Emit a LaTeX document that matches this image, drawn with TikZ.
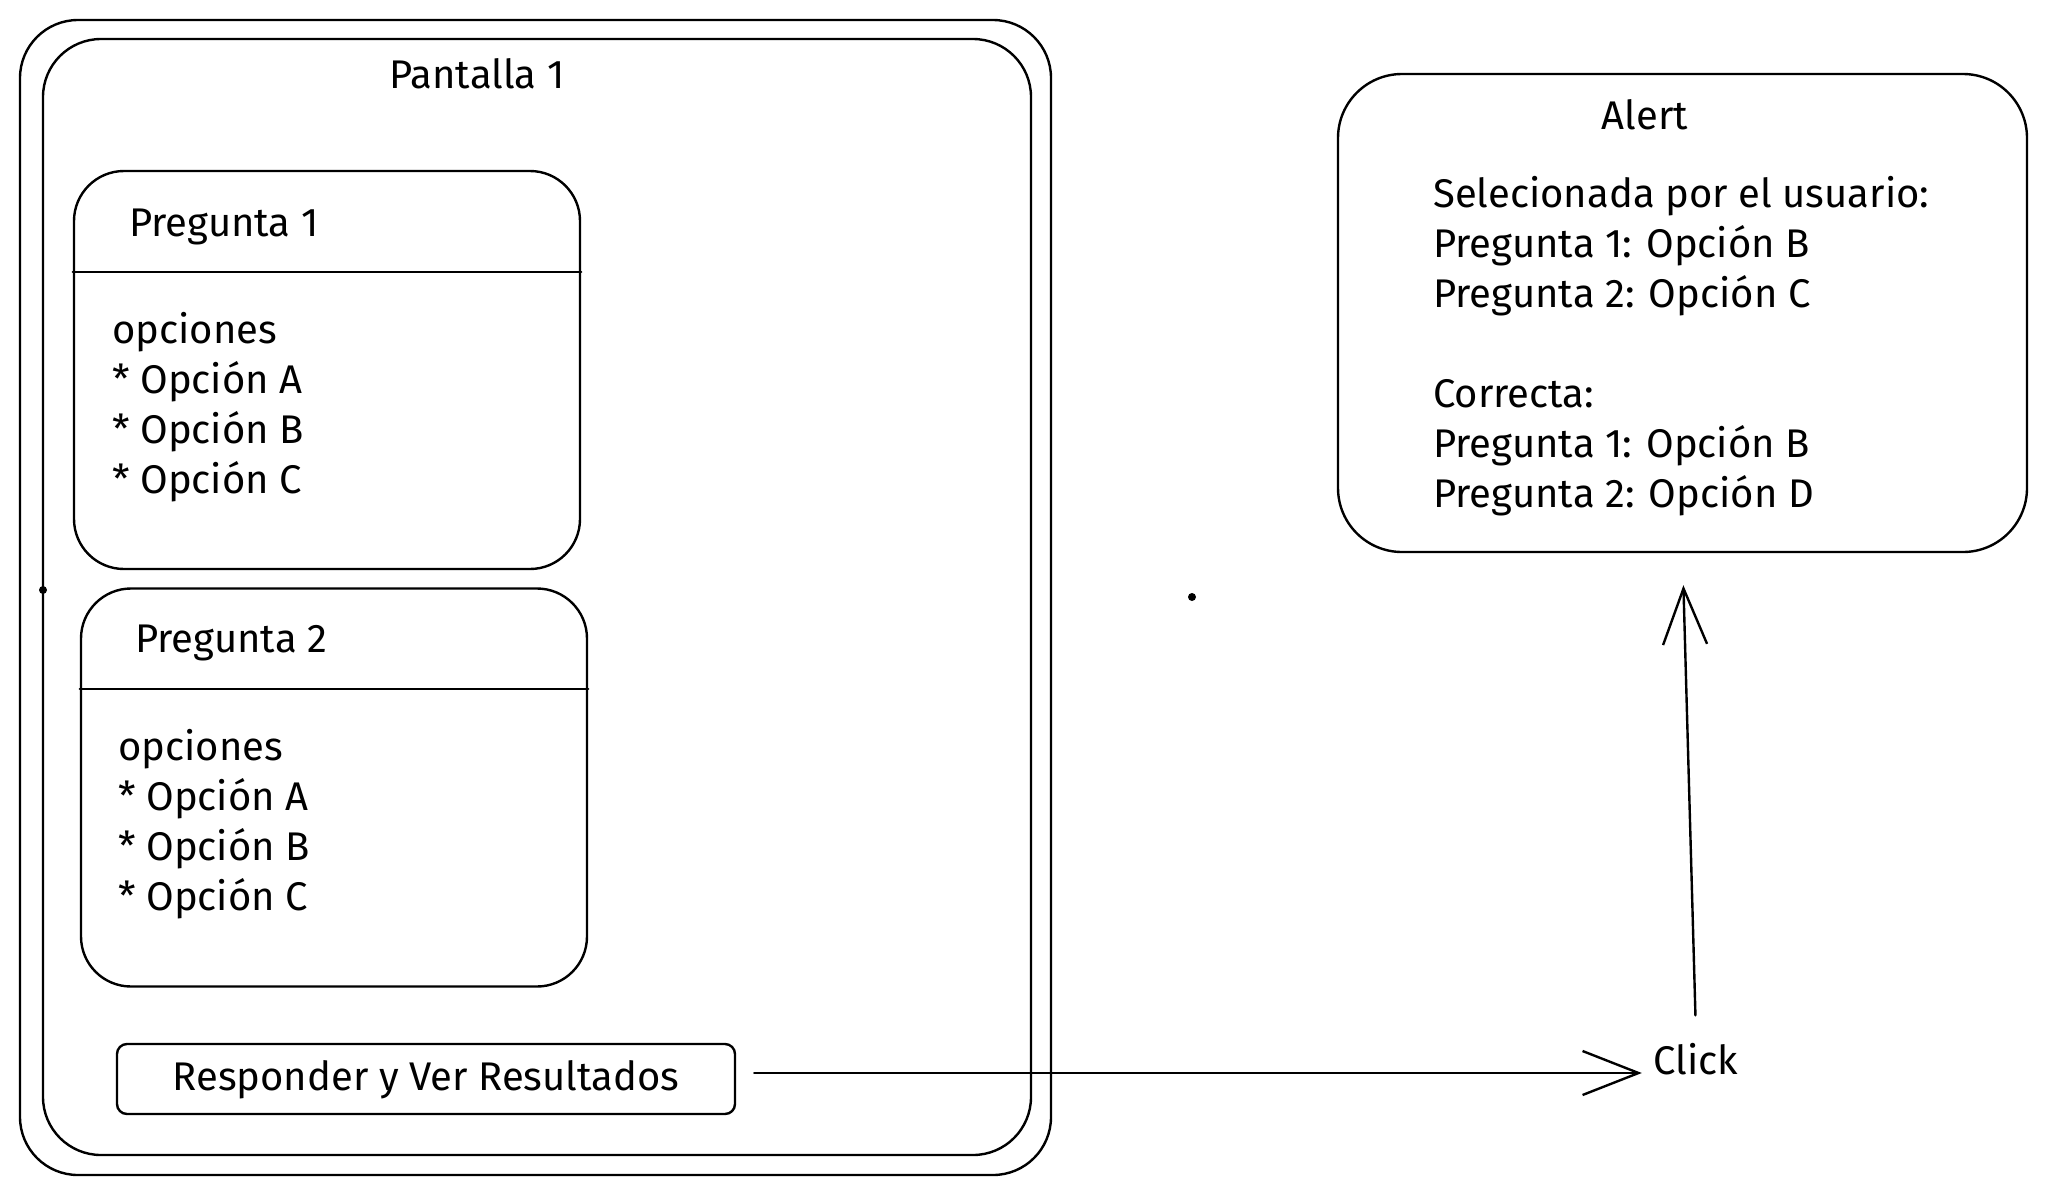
\documentclass[tikz,border=0pt]{standalone}
\usepackage{fontspec}
\setmainfont{Fira Sans}
\usetikzlibrary{arrows.meta}

\begin{document}
\begin{tikzpicture}[x=0.5pt,y=-0.5pt,line width=1.2pt,line cap=round,
    font=\fontsize{20}{25}\selectfont,
    screen/.style={draw,rounded corners=29pt,inner sep=0pt},
    card/.style={draw,rounded corners=25pt,minimum width=253pt,minimum height=199pt},
    txt/.style={anchor=west,align=left,inner sep=0pt},
    arr/.style={-{Straight Barb[length=28pt,width=22pt]}}]
  \useasboundingbox (0,0) rectangle (2047,1195);
  % pantalla
  \node[screen,minimum width=515.5pt,minimum height=577.5pt] (scr) at (535.5,597.5) {};
  \node[screen,minimum width=494pt,minimum height=558pt] (scrb) at (537,597) {};
  \node (scrt) at (477,74) {Pantalla 1};
  % preguntas
  \node[card] (q1) at (327,370) {};
  \draw (q1.west |- 0,272) -- (q1.east |- 0,272);
  \node[txt] (q1t) at (128,227) {Pregunta 1};
  \node[txt] (q1o) at (111,407) {opciones\\* Opción A\\* Opción B\\* Opción C};
  \node[card] (q2) at (334,787.5) {};
  \draw (q2.west |- 0,689) -- (q2.east |- 0,689);
  \node[txt] (q2t) at (134,643) {Pregunta 2};
  \node[txt] (q2o) at (117,824) {opciones\\* Opción A\\* Opción B\\* Opción C};
  \node[draw,rounded corners=5pt,minimum width=309pt,minimum height=35pt,text depth=4pt] (btn) at (426,1079) {Responder y Ver Resultados};
  % alert
  \node[draw,rounded corners=32pt,minimum width=344.5pt,minimum height=239pt] (alert) at (1682.5,313) {};
  \node (alertt) at (1645,115) {Alert};
  \node[txt] (res) at (1432,346) {Selecionada por el usuario:\\Pregunta 1: Opción B\\Pregunta 2: Opción C\\[25pt]Correcta:\\Pregunta 1: Opción B\\Pregunta 2: Opción D};
  \node (click) at (1696,1059) {Click};
  \fill (43,590) circle (2pt);
  \fill (1192,597) circle (2pt);
  \draw[arr,shorten <=9pt,shorten >=2pt] ([yshift=3pt]btn.east) -- ([yshift=3pt]btn.east -| click.west);
  \draw[arr,shorten <=10pt,shorten >=16pt] (click.north) -- (alert.south);
\end{tikzpicture}
\end{document}
